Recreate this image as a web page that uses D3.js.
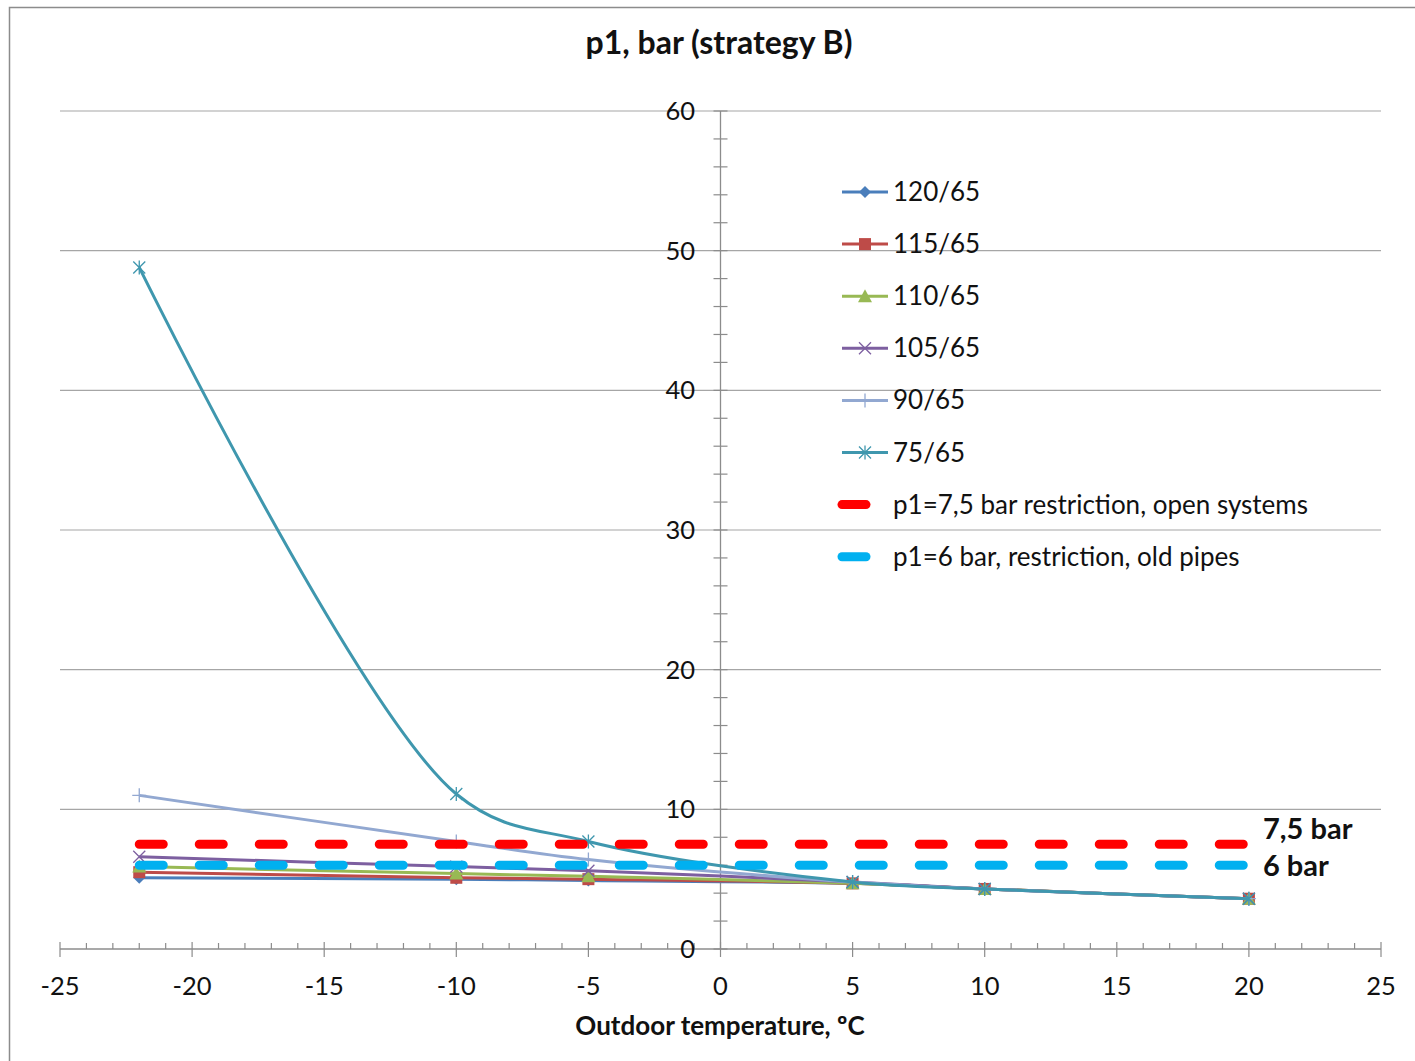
<!DOCTYPE html>
<html><head><meta charset="utf-8">
<script src="https://cdnjs.cloudflare.com/ajax/libs/d3/7.8.5/d3.min.js"></script>
<style>body{margin:0;background:#fff}svg{display:block}text{font-family:Lato,"Open Sans",sans-serif}</style>
</head><body>
<script>
const temps = [-22, -10, -5, 5, 10, 20];
const s120 = [5.1, 5.0, 4.9, 4.7, 4.3, 3.6];
const s115 = [5.5, 5.1, 5.0, 4.7, 4.3, 3.6];
const s110 = [5.9, 5.4, 5.2, 4.7, 4.3, 3.6];
const s105 = [6.6, 5.9, 5.6, 4.8, 4.3, 3.6];
const s90 = [11.0, 7.7, 6.4, 4.8, 4.3, 3.6];
const s75 = [48.8, 11.1, 7.7, 4.8, 4.3, 3.6];
const seriesNames = ["120/65", "115/65", "110/65", "105/65", "90/65", "75/65"];
const restrictNames = ["p1=7,5 bar restriction, open systems", "p1=6 bar, restriction, old pipes"];
const restrictValues = [7.5, 6];
const restrictLabels = ["7,5 bar", "6 bar"];
const xTicks = [-25, -20, -15, -10, -5, 0, 5, 10, 15, 20, 25];
const yTicks = [0, 10, 20, 30, 40, 50, 60];

const W = 1415, H = 1061;
const svg = d3.select("body").append("svg").attr("width", W).attr("height", H);
svg.append("rect").attr("x", 9.5).attr("y", 7.5).attr("width", 1430).attr("height", 1080)
  .attr("fill", "#fff").attr("stroke", "#8c8c8c").attr("stroke-width", 1.5);

const x = d3.scaleLinear().domain([-25, 25]).range([60, 1381]);
const y = d3.scaleLinear().domain([0, 60]).range([949, 111]);

// gridlines
svg.append("g").selectAll("line").data(yTicks.filter(d => d > 0)).join("line")
  .attr("x1", x(-25)).attr("x2", x(25)).attr("y1", d => y(d)).attr("y2", d => y(d))
  .attr("stroke", "#a6a6a6").attr("stroke-width", 1.2);

// x axis
const gx = svg.append("g");
gx.append("line").attr("x1", x(-25)).attr("x2", x(25)).attr("y1", y(0)).attr("y2", y(0))
  .attr("stroke", "#8c8c8c").attr("stroke-width", 1.3);
gx.selectAll("line.minor").data(d3.range(-25, 26, 1).filter(d => d % 5 !== 0)).join("line")
  .attr("class", "minor").attr("x1", d => x(d)).attr("x2", d => x(d))
  .attr("y1", y(0) - 6).attr("y2", y(0)).attr("stroke", "#8c8c8c").attr("stroke-width", 1.2);
gx.selectAll("line.major").data(xTicks).join("line")
  .attr("class", "major").attr("x1", d => x(d)).attr("x2", d => x(d))
  .attr("y1", y(0) - 7).attr("y2", y(0) + 8).attr("stroke", "#8c8c8c").attr("stroke-width", 1.2);
gx.selectAll("text").data(xTicks).join("text")
  .attr("x", d => x(d)).attr("y", 995).attr("text-anchor", "middle")
  .attr("font-size", 25.5).attr("fill", "#111").text(d => d);

// y axis at x=0
const gy = svg.append("g");
gy.append("line").attr("x1", x(0)).attr("x2", x(0)).attr("y1", y(0)).attr("y2", y(60))
  .attr("stroke", "#8c8c8c").attr("stroke-width", 1.3);
gy.selectAll("line.minor").data(d3.range(0, 61, 2)).join("line")
  .attr("class", "minor").attr("x1", x(0) - 7).attr("x2", x(0) + 7)
  .attr("y1", d => y(d)).attr("y2", d => y(d)).attr("stroke", "#8c8c8c").attr("stroke-width", 1.2);
gy.selectAll("text").data(yTicks).join("text")
  .attr("x", 695).attr("y", d => y(d) + 9).attr("text-anchor", "end")
  .attr("font-size", 25.5).attr("fill", "#111").text(d => d);

// series
const seriesData = [s120, s115, s110, s105, s90, s75];
const colors = ["#4a7ebb", "#be4b48", "#98b954", "#7d5fa0", "#92a8d1", "#3f97ae"];
const markers = ["diamond", "square", "triangle", "x", "plus", "star"];
const line = d3.line().x(d => x(d[0])).y(d => y(d[1])).curve(d3.curveCatmullRom.alpha(0.5));

function drawMarker(g, type, cx, cy, color) {
  if (type === "diamond") {
    g.append("path").attr("d", `M${cx},${cy-6}L${cx+6},${cy}L${cx},${cy+6}L${cx-6},${cy}Z`).attr("fill", color);
  } else if (type === "square") {
    g.append("rect").attr("x", cx - 6).attr("y", cy - 6).attr("width", 12).attr("height", 12).attr("fill", color);
  } else if (type === "triangle") {
    g.append("path").attr("d", `M${cx},${cy-7}L${cx+7},${cy+6}L${cx-7},${cy+6}Z`).attr("fill", color);
  } else if (type === "x") {
    g.append("path").attr("d", `M${cx-6},${cy-6}L${cx+6},${cy+6}M${cx+6},${cy-6}L${cx-6},${cy+6}`).attr("stroke", color).attr("stroke-width", 1.3);
  } else if (type === "plus") {
    g.append("path").attr("d", `M${cx-7},${cy}L${cx+7},${cy}M${cx},${cy-7}L${cx},${cy+7}`).attr("stroke", color).attr("stroke-width", 1.3);
  } else if (type === "star") {
    g.append("path").attr("d", `M${cx-6},${cy-6}L${cx+6},${cy+6}M${cx+6},${cy-6}L${cx-6},${cy+6}M${cx},${cy-7}L${cx},${cy+7}`).attr("stroke", color).attr("stroke-width", 1.3);
  }
}

seriesData.forEach((vals, i) => {
  const pts = temps.map((t, j) => [t, vals[j]]);
  const g = svg.append("g");
  g.append("path").attr("d", line(pts)).attr("fill", "none").attr("stroke", colors[i]).attr("stroke-width", 3);
  pts.forEach(p => drawMarker(g, markers[i], x(p[0]), y(p[1]), colors[i]));
});

// restriction lines
const rColors = ["#ff0000", "#00b0f0"];
restrictValues.forEach((v, i) => {
  svg.append("line").attr("x1", x(temps[0])).attr("x2", x(temps[temps.length - 1]))
    .attr("y1", y(v)).attr("y2", y(v)).attr("stroke", rColors[i]).attr("stroke-width", 9)
    .attr("stroke-linecap", "round").attr("stroke-dasharray", "24 36");
  svg.append("text").attr("x", 1263).attr("y", y(v) + (i === 0 ? -5 : 11))
    .attr("font-size", 29).attr("font-weight", "bold").attr("fill", "#111").text(restrictLabels[i]);
});

// legend
const leg = svg.append("g");
const rowY = d3.range(8).map(i => 192 + i * 52.1);
seriesNames.forEach((n, i) => {
  const ry = rowY[i];
  leg.append("line").attr("x1", 842).attr("x2", 888).attr("y1", ry).attr("y2", ry).attr("stroke", colors[i]).attr("stroke-width", 3);
  drawMarker(leg, markers[i], 865, ry, colors[i]);
  leg.append("text").attr("x", 893).attr("y", ry + 9).attr("font-size", 26).attr("fill", "#111").text(n);
});
restrictNames.forEach((n, i) => {
  const ry = rowY[6 + i];
  leg.append("line").attr("x1", 842).attr("x2", 866).attr("y1", ry).attr("y2", ry).attr("stroke", rColors[i]).attr("stroke-width", 9).attr("stroke-linecap", "round");
  leg.append("text").attr("x", 893).attr("y", ry + 9).attr("font-size", 26).attr("fill", "#111").text(n);
});

// titles
svg.append("text").attr("x", 719).attr("y", 54).attr("text-anchor", "middle")
  .attr("font-size", 32).attr("font-weight", "bold").attr("fill", "#111").text("p1, bar (strategy B)");
svg.append("text").attr("x", 720).attr("y", 1035).attr("text-anchor", "middle")
  .attr("font-size", 26).attr("font-weight", "bold").attr("fill", "#111").text("Outdoor temperature, ºC");
</script>
</body></html>
